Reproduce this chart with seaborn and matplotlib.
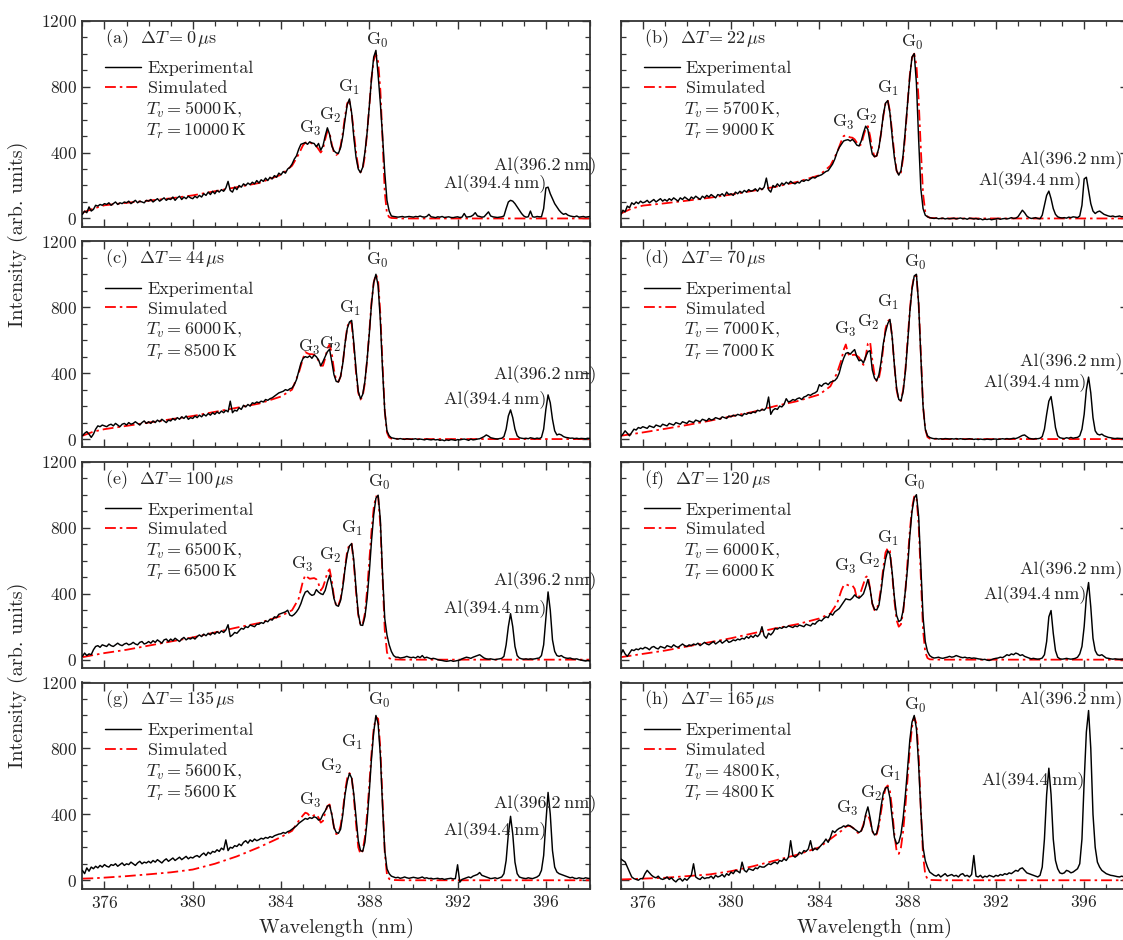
import numpy as np
import pandas as pd
import matplotlib
matplotlib.use("Agg")
import matplotlib.pyplot as plt
from matplotlib.ticker import MultipleLocator
import seaborn as sns

# ---------------- data ----------------
PANEL_IDS = ["a", "b", "c", "d", "e", "f", "g", "h"]
DELAYS_US = [0, 22, 44, 70, 100, 120, 135, 165]
T_VIB = [5000, 5700, 6000, 7000, 6500, 6000, 5600, 4800]
T_ROT = [10000, 9000, 8500, 7000, 6500, 6000, 5600, 4800]

# experimental spectra: sampled every 0.1 nm starting at 375.0 nm
EXP_START_NM = 375.0
EXP_STEP_NM = 0.1

EXP_A = [
    25, 45, 35, 70, 45, 55, 80, 75, 85, 80,
    90, 85, 95, 80, 90, 100, 85, 95, 90, 100,
    95, 105, 90, 100, 110, 95, 105, 100, 95, 110,
    105, 115, 100, 110, 120, 105, 115, 125, 110, 120,
    115, 130, 110, 125, 135, 115, 130, 120, 135, 125,
    120, 135, 125, 140, 130, 150, 140, 160, 145, 165,
    150, 170, 160, 175, 165, 185, 225, 170, 160, 190,
    175, 200, 190, 210, 200, 215, 205, 220, 210, 230,
    215, 235, 225, 245, 230, 250, 240, 260, 250, 275,
    265, 285, 275, 300, 310, 330, 360, 380, 420, 450,
    455, 460, 450, 465, 458, 455, 435, 455, 415, 440,
    500, 550, 510, 440, 410, 398, 395, 430, 500, 600,
    690, 725, 640, 490, 370, 300, 278, 310, 400, 520,
    680, 850, 980, 1020, 870, 700, 500, 280, 110, 45,
    15, 12, 10, 8, 10, 12, 8, 10, 12, 10,
    8, 12, 10, 15, 10, 8, 12, 25, 10, 8,
    5, 10, 8, 12, 6, 8, 10, 6, 5, 8,
    10, 6, 8, 30, 8, 10, 12, 20, 35, 15,
    12, 8, 10, 25, 40, 15, 10, 8, 6, 8,
    10, 15, 60, 100, 110, 105, 90, 70, 50, 30,
    15, 8, 10, 45, 10, 8, 12, 10, 10, 60,
    185, 190, 150, 120, 90, 70, 50, 35, 25, 30,
    20, 15, 12, 10, 15, 8, 10, 12, 8, 10,
    12,
]
EXP_B = [
    20, 50, 40, 75, 65, 95, 85, 100, 90, 105,
    95, 100, 110, 95, 105, 115, 100, 110, 120, 105,
    115, 105, 120, 110, 125, 115, 105, 125, 115, 130,
    120, 110, 130, 120, 135, 125, 115, 135, 125, 140,
    130, 145, 135, 125, 145, 140, 150, 135, 160, 145,
    150, 140, 160, 150, 165, 155, 170, 160, 175, 165,
    170, 180, 165, 185, 175, 190, 245, 175, 160, 200,
    190, 210, 195, 215, 205, 220, 210, 225, 215, 210,
    220, 215, 230, 225, 235, 230, 240, 250, 245, 255,
    260, 265, 275, 285, 290, 310, 330, 360, 400, 430,
    450, 470, 475, 478, 470, 480, 465, 445, 440, 470,
    520, 560, 540, 460, 390, 375, 380, 430, 520, 630,
    700, 715, 640, 500, 370, 290, 263, 290, 390, 540,
    700, 860, 980, 1000, 820, 480, 180, 60, 20, 10,
    5, 2, 0, 3, -2, 0, 2, -3, 0, -2,
    0, 2, -3, 0, 3, -2, 0, -5, 2, 0,
    -3, 0, -5, -2, -8, -4, -6, -3, -8, -5,
    -3, 0, -5, -2, 0, -3, 0, 5, 0, 2,
    10, 30, 50, 35, 15, 5, 0, 2, 5, 0,
    -2, 20, 80, 140, 166, 120, 60, 25, 10, 5,
    3, 5, 2, 8, 5, 10, 8, 5, 15, 80,
    240, 250, 170, 90, 45, 30, 40, 45, 35, 25,
    20, 15, 12, 15, 10, 12, 15, 10, 12, 15,
    12,
]
EXP_C = [
    20, 35, 45, 30, 10, 30, 60, 80, 75, 85,
    80, 75, 85, 90, 80, 95, 85, 75, 90, 95,
    85, 100, 90, 95, 105, 95, 85, 100, 110, 95,
    105, 95, 110, 100, 115, 105, 120, 110, 100, 115,
    110, 125, 115, 130, 120, 135, 125, 140, 120, 130,
    125, 140, 130, 145, 135, 150, 140, 155, 145, 160,
    150, 165, 155, 170, 160, 175, 165, 230, 160, 175,
    170, 190, 180, 205, 195, 210, 200, 220, 215, 225,
    220, 230, 225, 240, 235, 245, 250, 260, 270, 280,
    285, 290, 300, 295, 305, 310, 330, 360, 410, 460,
    490, 500, 495, 505, 490, 510, 500, 480, 445, 470,
    500, 530, 545, 470, 390, 350, 346, 380, 460, 580,
    670, 710, 720, 580, 420, 290, 244, 270, 350, 480,
    640, 820, 950, 1000, 930, 720, 420, 170, 50, 20,
    8, 5, 2, 0, 3, 0, -2, 2, 0, -2,
    0, 2, -3, 0, -2, -5, 0, -3, -5, -2,
    -5, -3, -8, -5, -10, -5, -8, -3, -5, -8,
    -3, -5, -2, 0, -3, -8, 0, -5, -3, 0,
    2, 8, 15, 25, 18, 8, 5, 2, 0, 3,
    5, 15, 60, 140, 177, 130, 60, 20, 8, 5,
    3, 5, 2, 8, 5, 2, 6, 3, 10, 60,
    180, 268, 220, 120, 50, 25, 30, 25, 15, 10,
    8, 5, 6, 3, 5, 2, 4, 3, 2, 5,
    3,
]
EXP_D = [
    15, 30, 50, 35, 20, 40, 60, 55, 70, 65,
    75, 70, 65, 80, 75, 70, 85, 80, 75, 90,
    85, 80, 95, 90, 85, 100, 95, 90, 105, 100,
    95, 110, 105, 100, 115, 110, 105, 120, 115, 110,
    125, 115, 120, 130, 125, 120, 135, 130, 125, 140,
    135, 145, 140, 150, 145, 140, 155, 150, 160, 155,
    165, 160, 175, 170, 180, 175, 190, 255, 150, 175,
    185, 180, 200, 195, 210, 245, 225, 230, 240, 235,
    245, 250, 240, 255, 260, 270, 265, 275, 280, 290,
    330, 320, 335, 340, 330, 345, 350, 355, 370, 400,
    450, 490, 520, 525, 515, 530, 543, 500, 475, 480,
    462, 500, 530, 537, 420, 370, 354, 390, 470, 580,
    650, 700, 726, 620, 450, 310, 240, 232, 290, 410,
    580, 770, 910, 990, 1000, 820, 500, 200, 60, 20,
    10, 5, 2, 3, 0, 2, 0, 3, 2, 0,
    2, 0, 3, 0, 2, 0, -2, 0, 2, 0,
    -2, 0, -3, 0, -2, -3, 0, -2, -3, 0,
    0, -2, 0, 2, 0, 3, 0, 2, 5, 3,
    8, 15, 22, 25, 15, 5, 2, 0, 3, 2,
    5, 15, 60, 150, 230, 258, 170, 70, 20, 8,
    5, 3, 8, 5, 10, 5, 8, 10, 20, 60,
    150, 300, 376, 280, 130, 50, 30, 25, 30, 20,
    15, 10, 8, 5, 3, 5, 4, 3, 5, 3,
    3,
]
EXP_E = [
    20, 40, 25, 35, 30, 60, 80, 85, 75, 90,
    85, 80, 95, 85, 80, 90, 100, 90, 85, 95,
    100, 90, 95, 105, 95, 90, 105, 110, 95, 100,
    110, 100, 115, 105, 120, 110, 100, 120, 125, 110,
    125, 115, 130, 120, 110, 125, 135, 120, 130, 125,
    135, 125, 140, 150, 140, 155, 145, 160, 150, 165,
    155, 170, 160, 175, 165, 180, 212, 140, 150, 165,
    160, 175, 190, 185, 200, 195, 210, 205, 200, 215,
    215, 225, 220, 235, 230, 245, 240, 260, 255, 275,
    280, 285, 290, 300, 270, 265, 275, 290, 310, 340,
    380, 410, 417, 400, 390, 395, 425, 410, 400, 395,
    420, 470, 512, 450, 370, 330, 324, 360, 440, 550,
    640, 690, 704, 600, 430, 280, 210, 208, 260, 370,
    530, 720, 880, 980, 998, 850, 520, 250, 150, 90,
    50, 25, 15, 15, 10, 12, 15, 20, 15, 12,
    15, 10, 20, 12, 25, 10, 15, 10, 5, 8,
    5, 0, -3, -5, -8, -10, -8, -5, -10, -8,
    -5, -2, 5, 10, 15, 12, 8, 15, 20, 25,
    30, 20, 10, 5, 3, 5, 2, 0, 3, 5,
    8, 20, 90, 200, 279, 200, 80, 25, 10, 5,
    3, 5, 2, 5, 3, 5, 8, 10, 25, 90,
    250, 411, 300, 120, 50, 25, 20, 25, 15, 10,
    8, 10, 5, 3, 5, 0, -3, -5, -8, -5,
    -8,
]
EXP_F = [
    30, 60, 35, 20, 40, 60, 55, 65, 60, 70,
    65, 75, 70, 60, 75, 80, 70, 65, 80, 75,
    70, 85, 80, 75, 90, 80, 75, 85, 95, 85,
    80, 90, 85, 95, 90, 100, 85, 95, 105, 95,
    90, 100, 110, 95, 105, 115, 100, 110, 120, 105,
    110, 120, 115, 125, 120, 130, 125, 140, 130, 145,
    135, 150, 140, 155, 200, 145, 130, 160, 150, 165,
    190, 185, 195, 190, 200, 195, 205, 200, 195, 205,
    200, 210, 205, 200, 215, 210, 205, 220, 215, 230,
    240, 235, 250, 260, 255, 280, 270, 290, 300, 310,
    330, 350, 369, 365, 363, 375, 393, 380, 373, 385,
    400, 440, 486, 430, 340, 305, 302, 330, 420, 530,
    610, 661, 640, 530, 380, 270, 231, 240, 300, 420,
    560, 750, 900, 980, 1001, 870, 560, 260, 110, 50,
    25, 15, 10, 12, 15, 10, 8, 12, 15, 20,
    15, 18, 25, 20, 15, 12, 15, 10, 12, 8,
    10, 8, 5, 3, 0, 2, -3, -5, 0, 5,
    8, 10, 15, 12, 20, 30, 25, 35, 30, 40,
    35, 25, 30, 20, 15, 10, 5, 8, 5, 3,
    5, 10, 30, 110, 260, 298, 160, 55, 15, 5,
    3, 5, 8, 5, 3, 5, 8, 15, 35, 80,
    200, 380, 468, 320, 130, 55, 30, 25, 30, 20,
    10, 8, 5, 3, 5, 3, 2, 3, 5, 3,
    3,
]
EXP_G = [
    60, 40, 75, 55, 80, 70, 85, 75, 90, 80,
    95, 85, 80, 95, 90, 100, 85, 95, 105, 90,
    100, 95, 110, 100, 90, 105, 115, 100, 110, 105,
    115, 105, 120, 110, 125, 115, 105, 120, 130, 115,
    125, 135, 120, 130, 140, 125, 135, 145, 130, 140,
    135, 145, 150, 140, 155, 165, 150, 170, 160, 175,
    170, 185, 175, 195, 185, 245, 180, 200, 195, 210,
    205, 220, 210, 230, 240, 225, 245, 235, 250, 240,
    246, 255, 250, 260, 255, 265, 260, 270, 275, 280,
    282, 290, 285, 295, 300, 310, 320, 330, 345, 355,
    365, 375, 370, 380, 375, 385, 380, 365, 370, 400,
    420, 450, 455, 400, 320, 290, 285, 310, 400, 520,
    600, 648, 620, 520, 380, 240, 180, 175, 230, 360,
    540, 740, 900, 1000, 950, 760, 450, 180, 70, 40,
    25, 20, 15, 18, 12, 15, 20, 15, 12, 15,
    18, 15, 12, 15, 20, 12, 15, 10, 12, 8,
    10, 12, 8, 10, 5, 8, 10, 12, 8, 10,
    94, -12, 5, 10, 15, 20, 15, 25, 30, 35,
    47, 30, 25, 20, 15, 10, 12, 15, 10, 15,
    20, 40, 120, 280, 388, 280, 110, 40, 20, 15,
    12, 10, 15, 12, 10, 15, 20, 30, 60, 150,
    350, 533, 400, 180, 80, 50, 40, 35, 30, 25,
    20, 15, 18, 12, 10, 15, 12, 10, 15, 12,
    10,
]
EXP_H = [
    130, 120, 111, 80, 50, 20, 10, 5, 0, 10,
    10, 40, 60, 45, 30, 20, 15, 25, 10, 5,
    10, 20, 5, 15, 0, -10, 5, 10, -5, 10,
    0, 15, 30, 100, 20, 10, 5, 20, 10, 15,
    15, 25, 10, 30, 20, 25, 35, 20, 40, 30,
    50, 40, 60, 55, 45, 110, 60, 50, 70, 65,
    60, 75, 70, 85, 80, 80, 90, 100, 95, 105,
    110, 100, 120, 115, 130, 120, 140, 240, 150, 140,
    150, 170, 160, 180, 175, 190, 240, 180, 195, 185,
    200, 215, 230, 250, 230, 260, 300, 290, 305, 315,
    320, 330, 325, 335, 330, 320, 310, 300, 290, 300,
    330, 400, 445, 380, 300, 275, 285, 350, 450, 530,
    560, 565, 500, 380, 260, 220, 230, 280, 380, 520,
    680, 850, 960, 1000, 920, 700, 420, 200, 120, 80,
    50, 40, 30, 25, 35, 20, 30, 40, 25, 30,
    35, 25, 30, 20, 35, 40, 25, 30, 20, 35,
    150, 25, 20, 30, 15, 25, 20, 30, 25, 20,
    30, 25, 35, 30, 40, 35, 45, 40, 50, 60,
    55, 70, 75, 60, 45, 40, 35, 30, 25, 20,
    30, 80, 250, 520, 680, 520, 250, 120, 70, 45,
    40, 45, 60, 55, 45, 50, 60, 70, 100, 250,
    600, 900, 1030, 800, 400, 200, 110, 80, 60, 50,
    40, 35, 30, 28, 25, 22, 20, 25, 20, 22,
    25,
]

# simulated spectra (smooth), sampled on this wavelength list
SIM_WL = [375.0, 375.5, 376.0, 377.0, 378.0, 379.0, 380.0, 381.0, 382.0, 383.0,
          384.0, 384.5, 384.8, 385.0, 385.1, 385.2, 385.3, 385.4, 385.5, 385.6,
          385.7, 385.8, 385.9, 386.0, 386.1, 386.2, 386.3, 386.4, 386.5, 386.6,
          386.7, 386.8, 386.9, 387.0, 387.1, 387.2, 387.3, 387.4, 387.5, 387.6,
          387.7, 387.8, 387.9, 388.0, 388.1, 388.2, 388.3, 388.4, 388.5, 388.6,
          388.7, 388.8, 388.9, 389.0, 389.5, 390.0, 392.0, 394.0, 396.0, 398.0]

SIM_A = [35, 60, 80, 95, 108, 122, 140, 165, 190, 215,
         265, 320, 390, 445, 460, 465, 462, 455, 450, 440,
         420, 400, 420, 480, 530, 520, 450, 400, 385, 395,
         440, 520, 620, 700, 710, 640, 520, 400, 310, 280,
         300, 380, 520, 680, 850, 960, 1000, 950, 780, 480,
         160, 30, 8, 3, 0, 0, 0, 0, 0, 0]
SIM_B = [30, 60, 78, 92, 108, 125, 145, 168, 192, 222,
         262, 320, 400, 470, 500, 505, 498, 492, 490, 480,
         460, 440, 450, 500, 545, 560, 500, 420, 375, 380,
         430, 520, 620, 700, 718, 650, 520, 390, 290, 263,
         280, 370, 520, 700, 870, 975, 1000, 930, 720, 420,
         150, 40, 12, 4, 0, 0, 0, 0, 0, 0]
SIM_C = [20, 45, 60, 80, 100, 120, 140, 165, 190, 215,
         258, 300, 400, 490, 528, 520, 515, 515, 512, 500,
         475, 445, 445, 490, 550, 574, 520, 420, 355, 348,
         380, 460, 580, 680, 715, 700, 560, 400, 280, 240,
         260, 340, 480, 650, 830, 950, 1000, 960, 760, 450,
         170, 40, 10, 3, 0, 0, 0, 0, 0, 0]
SIM_D = [20, 30, 40, 62, 85, 110, 138, 165, 200, 230,
         270, 320, 400, 480, 540, 574, 520, 500, 510, 512,
         505, 495, 470, 450, 500, 580, 590, 480, 390, 352,
         370, 440, 560, 670, 715, 726, 620, 450, 300, 235,
         232, 300, 420, 600, 780, 920, 990, 990, 820, 520,
         200, 60, 12, 3, 0, 0, 0, 0, 0, 0]
SIM_E = [15, 28, 40, 60, 85, 110, 135, 165, 195, 222,
         265, 300, 370, 480, 512, 500, 491, 493, 495, 488,
         460, 420, 440, 480, 530, 548, 480, 380, 325, 330,
         370, 450, 560, 660, 700, 704, 580, 410, 270, 210,
         215, 280, 420, 600, 780, 920, 990, 990, 820, 500,
         180, 45, 10, 2, 0, 0, 0, 0, 0, 0]
SIM_F = [15, 25, 35, 55, 80, 105, 130, 160, 190, 215,
         250, 280, 340, 420, 450, 458, 452, 448, 450, 430,
         373, 380, 420, 460, 500, 509, 430, 340, 300, 305,
         350, 440, 560, 650, 677, 660, 520, 360, 240, 200,
         215, 290, 420, 600, 780, 920, 990, 990, 820, 500,
         180, 45, 10, 2, 0, 0, 0, 0, 0, 0]
SIM_G = [10, 12, 16, 25, 36, 48, 65, 100, 145, 200,
         262, 300, 360, 395, 410, 405, 390, 385, 395, 400,
         380, 350, 360, 410, 450, 460, 400, 320, 280, 285,
         330, 420, 540, 620, 650, 630, 500, 340, 200, 160,
         180, 260, 400, 580, 770, 920, 990, 980, 800, 480,
         170, 35, 8, 2, 0, 0, 0, 0, 0, 0]
SIM_H = [5, 7, 10, 15, 25, 35, 55, 85, 120, 155,
         200, 250, 280, 300, 315, 325, 330, 328, 320, 310,
         295, 280, 300, 340, 390, 400, 360, 300, 270, 280,
         330, 420, 500, 560, 575, 540, 430, 280, 180, 160,
         200, 300, 450, 620, 800, 930, 990, 950, 760, 430,
         150, 35, 8, 2, 0, 0, 0, 0, 0, 0]

EXP_ALL = [EXP_A, EXP_B, EXP_C, EXP_D, EXP_E, EXP_F, EXP_G, EXP_H]
SIM_ALL = [SIM_A, SIM_B, SIM_C, SIM_D, SIM_E, SIM_F, SIM_G, SIM_H]

PEAK_NAMES = [r"$\mathrm{G}_0$", r"$\mathrm{G}_1$", r"$\mathrm{G}_2$", r"$\mathrm{G}_3$",
              "Al(394.4\u2009nm)", "Al(396.2\u2009nm)"]
# annotation anchor positions (wavelength, intensity) for each panel
LABEL_POS = [
    [(388.39, 1083), (387.08, 797), (386.22, 627), (385.31, 548), (393.69, 214), (395.96, 323)],
    [(388.24, 1070), (387.11, 791), (386.11, 616), (385.07, 585), (393.55, 232), (395.42, 354)],
    [(388.39, 1086), (387.12, 795), (386.22, 571), (385.27, 553), (393.69, 237), (395.96, 389)],
    [(388.37, 1074), (387.11, 831), (386.20, 710), (385.16, 662), (393.76, 340), (395.42, 468)],
    [(388.48, 1078), (387.21, 799), (386.22, 635), (384.95, 580), (393.69, 312), (395.96, 482)],
    [(388.33, 1078), (387.11, 738), (386.25, 604), (385.16, 568), (393.76, 392), (395.42, 544)],
    [(388.48, 1090), (387.21, 835), (386.30, 690), (385.31, 486), (393.69, 303), (395.96, 467)],
    [(388.37, 1060), (387.20, 649), (386.38, 528), (385.29, 437), (393.70, 607), (395.42, 1094)],
]

# ---------------- style ----------------
sns.set_theme(style="ticks")
plt.rcParams.update({
    "font.family": ["cmr10", "DejaVu Serif"],
    "mathtext.fontset": "cm",
    "axes.formatter.use_mathtext": True,
    "axes.unicode_minus": False,
    "axes.edgecolor": "#333333",
    "axes.linewidth": 1.3,
    "xtick.color": "#333333",
    "ytick.color": "#333333",
    "xtick.labelcolor": "#222222",
    "ytick.labelcolor": "#222222",
})

FS = 13
TICK_FS = 12.5
fig = plt.figure(figsize=(11.23, 9.40), dpi=100)
W, H = 1123.0, 940.0
col_left = [82.4, 620.7]
ax_w = 507.6
row_top = [20.7, 241.3, 461.9, 682.5]
ax_h = 206.0

for i, pid in enumerate(PANEL_IDS):
    row, col = divmod(i, 2)
    ax = fig.add_axes([col_left[col] / W, 1 - (row_top[row] + ax_h) / H, ax_w / W, ax_h / H])

    exp_vals = EXP_ALL[i]
    exp_wl = np.round(EXP_START_NM + EXP_STEP_NM * np.arange(len(exp_vals)), 1)
    df_exp = pd.DataFrame({"wl": exp_wl, "I": exp_vals})
    df_sim = pd.DataFrame({"wl": SIM_WL, "I": SIM_ALL[i]})

    sns.lineplot(data=df_exp, x="wl", y="I", ax=ax, color="black", lw=1.05,
                 estimator=None, sort=False, label="Experimental", zorder=3)
    sns.lineplot(data=df_sim, x="wl", y="I", ax=ax, color="red", lw=1.3,
                 linestyle=(0, (6, 2.2, 1.4, 2.2)), estimator=None, sort=False,
                 label="Simulated", zorder=2)

    ax.set_xlim(375, 398)
    ax.set_ylim(-50, 1200)
    ax.xaxis.set_major_locator(MultipleLocator(4))
    ax.xaxis.set_minor_locator(MultipleLocator(1))
    ax.yaxis.set_major_locator(MultipleLocator(400))
    ax.yaxis.set_minor_locator(MultipleLocator(100))
    ax.tick_params(which="both", direction="in", top=True, right=True, labelsize=TICK_FS)
    ax.tick_params(which="major", length=6, width=1.0, pad=4)
    ax.tick_params(which="minor", length=3.5, width=0.9)
    ax.set_xlabel("")
    ax.set_ylabel("")
    if col == 1:
        ax.tick_params(labelleft=False)
    if row < 3:
        ax.tick_params(labelbottom=False)
    else:
        ax.set_xlabel("Wavelength (nm)", fontsize=14.5, labelpad=5)

    handles, labels = ax.get_legend_handles_labels()
    ax.legend(handles, labels, loc="upper left", bbox_to_anchor=(0.045, 0.806),
              frameon=False, fontsize=FS, handlelength=2.0, handletextpad=0.35,
              labelspacing=0.23, borderaxespad=0, borderpad=0)

    ax.text(0.045, 0.893, f"({pid})  " + r"$\Delta T = %d\,\mu\mathrm{s}$" % DELAYS_US[i],
            transform=ax.transAxes, fontsize=FS, ha="left", va="baseline")
    ax.text(0.125, 0.55, r"$T_v = %d\,\mathrm{K}$," % T_VIB[i],
            transform=ax.transAxes, fontsize=FS, ha="left", va="baseline")
    ax.text(0.125, 0.44, r"$T_r = %d\,\mathrm{K}$" % T_ROT[i],
            transform=ax.transAxes, fontsize=FS, ha="left", va="baseline")

    for name, (lx, ly) in zip(PEAK_NAMES, LABEL_POS[i]):
        ax.text(lx, ly, name, fontsize=FS, ha="center", va="center", zorder=5)

fig.text(0.016, 1 - ((row_top[0] + row_top[1] + ax_h) / 2) / H, "Intensity (arb. units)",
         rotation=90, ha="center", va="center", fontsize=14.5)
fig.text(0.016, 1 - ((row_top[2] + row_top[3] + ax_h) / 2) / H, "Intensity (arb. units)",
         rotation=90, ha="center", va="center", fontsize=14.5)

fig.savefig("out.png", dpi=100)
